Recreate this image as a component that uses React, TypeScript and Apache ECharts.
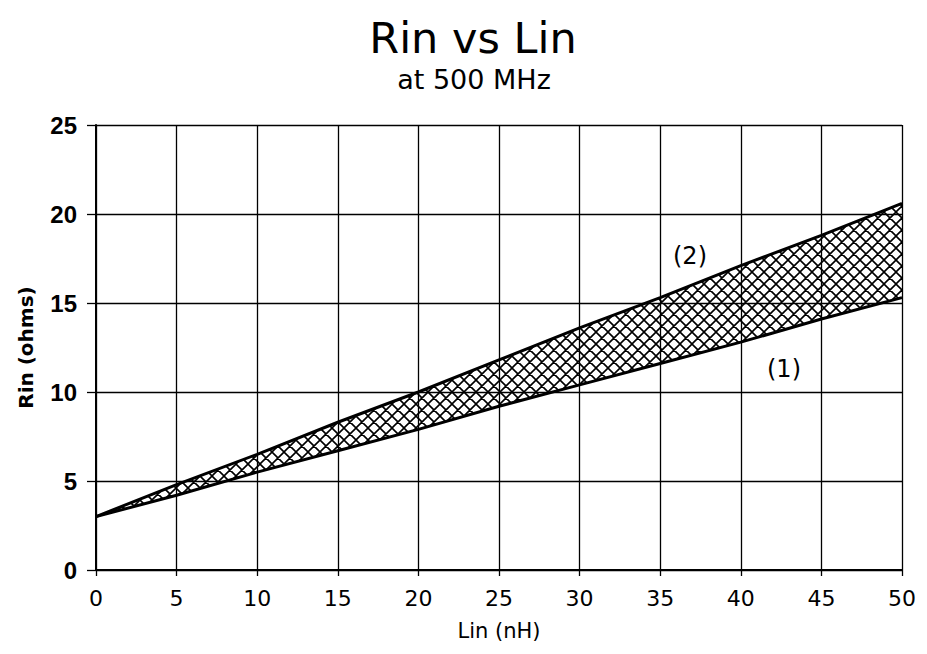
import React, { useEffect, useRef } from "react";
import * as echarts from "echarts";

const linValues = ["0", "5", "10", "15", "20", "25", "30", "35", "40", "45", "50"];
const rinCurve1 = [3.0, 4.2, 5.5, 6.7, 7.9, 9.2, 10.4, 11.6, 12.8, 14.1, 15.3];
const rinCurve2 = [3.0, 4.8, 6.5, 8.3, 10.0, 11.8, 13.6, 15.3, 17.1, 18.8, 20.6];
const curveLabels = ["(1)", "(2)"];

function makeHatch(): HTMLCanvasElement {
  const s = 12;
  const c = document.createElement("canvas");
  c.width = s;
  c.height = s;
  const ctx = c.getContext("2d")!;
  ctx.strokeStyle = "#000";
  ctx.lineWidth = 1.6;
  ctx.beginPath();
  for (const k of [-s, 0, s]) {
    ctx.moveTo(k, 0);
    ctx.lineTo(k + s, s);
    ctx.moveTo(k + s, 0);
    ctx.lineTo(k, s);
  }
  ctx.stroke();
  return c;
}

export default function App() {
  const ref = useRef<HTMLDivElement>(null);
  useEffect(() => {
    if (!ref.current) return;
    const chart = echarts.init(ref.current, null, { renderer: "svg" });
    const hatch = makeHatch();
    const dv = "'DejaVu Sans', sans-serif";
    const lib = "'Liberation Sans', 'DejaVu Sans', sans-serif";
    const band = rinCurve2.map((v, i) => +(v - rinCurve1[i]).toFixed(2));
    chart.setOption({
      animation: false,
      backgroundColor: "#fff",
      title: [
        {
          text: "Rin vs Lin",
          left: 460,
          textAlign: "center",
          top: 3,
          textStyle: { fontFamily: dv, fontSize: 43, fontWeight: "normal", color: "#000" },
        },
        {
          text: "at 500 MHz",
          left: 461,
          textAlign: "center",
          top: 53,
          textStyle: { fontFamily: dv, fontSize: 27, fontWeight: "normal", color: "#000" },
        },
      ],
      grid: { left: 85, right: 8, top: 117, bottom: 64 },
      xAxis: {
        type: "category",
        data: linValues,
        boundaryGap: false,
        name: "Lin (nH)",
        nameLocation: "middle",
        nameGap: 50,
        nameTextStyle: { fontFamily: dv, fontSize: 21, color: "#000" },
        axisLine: { lineStyle: { color: "#000", width: 2 } },
        axisTick: { show: true, interval: 0, length: 6, lineStyle: { color: "#000", width: 1.3 } },
        axisLabel: { interval: 0, fontFamily: dv, fontSize: 22, color: "#000", margin: 17 },
        splitLine: { show: true, interval: 0, lineStyle: { color: "#000", width: 1.3 } },
      },
      yAxis: {
        type: "value",
        min: 0,
        max: 25,
        interval: 5,
        name: "Rin (ohms)",
        nameLocation: "middle",
        nameGap: 60,
        nameTextStyle: { fontFamily: dv, fontSize: 20, fontWeight: "bold", color: "#000" },
        axisLine: { show: true, lineStyle: { color: "#000", width: 2 } },
        axisTick: { show: true, length: 9, lineStyle: { color: "#000", width: 1.3 } },
        axisLabel: { fontFamily: lib, fontSize: 24, fontWeight: "bold", color: "#000", margin: 19 },
        splitLine: { show: true, lineStyle: { color: "#000", width: 1.3 } },
      },
      series: [
        {
          type: "line",
          name: curveLabels[0],
          data: rinCurve1,
          stack: "band",
          symbol: "none",
          lineStyle: { color: "#000", width: 3 },
          z: 3,
        },
        {
          type: "line",
          name: curveLabels[1],
          data: band,
          stack: "band",
          symbol: "none",
          lineStyle: { color: "#000", width: 3 },
          areaStyle: {
            color: { image: hatch, repeat: "repeat", imageWidth: 12, imageHeight: 12 } as any,
            opacity: 1,
          },
          z: 2,
        },
      ],
      graphic: [
        {
          type: "text",
          left: 665,
          top: 236,
          style: { text: curveLabels[1], font: `24px ${dv}`, fill: "#000" },
        },
        {
          type: "text",
          left: 759,
          top: 349,
          style: { text: curveLabels[0], font: `24px ${dv}`, fill: "#000" },
        },
      ],
    });
    return () => chart.dispose();
  }, []);
  return <div ref={ref} style={{ width: 911, height: 638 }} />;
}
